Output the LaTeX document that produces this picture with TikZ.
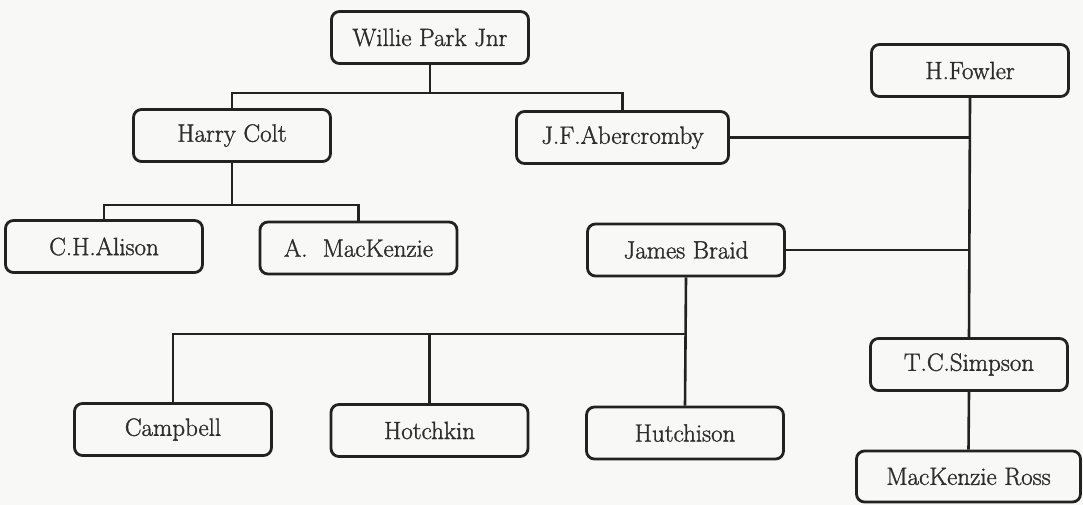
\documentclass[tikz,border=0pt]{standalone}
\usepackage{fontspec}
\newfontfamily\namefont{Latin Modern Roman}[FakeBold=1.3]
\definecolor{inkline}{RGB}{34,34,34}
\definecolor{inktext}{RGB}{45,45,45}
\definecolor{paper}{RGB}{248,248,246}
\tikzset{
    golfer/.style={draw=inkline, line width=2.8pt, rounded corners=8pt,
        minimum width=197pt, minimum height=52pt, inner sep=0pt,
        text=inktext, font=\namefont\fontsize{25}{29}\selectfont},
    link/.style={draw=inkline, line width=2.6pt}
}
\begin{document}
\begin{tikzpicture}[x=1pt, y=-1pt]
                \fill[paper] (0,0) rectangle (1083,505);
                \useasboundingbox (0,0) rectangle (1083,505);
                \node[golfer] (willie) at (430,37.5) {Willie Park Jnr};
                \node[golfer] (colt) at (232,135.5) {Harry Colt};
                \node[golfer, minimum width=212pt] (aber) at (622.5,137.5) {J.F.Abercromby};
                \node[golfer] (fowler) at (970,70.5) {H.Fowler};
                \node[golfer] (alison) at (104,246.5) {C.H.Alison};
                \node[golfer] (amack) at (358.5,248) {A.\ \ MacKenzie};
                \node[golfer] (braid) at (686,250) {James Braid};
                \node[golfer] (campbell) at (173,429.5) {Campbell};
                \node[golfer] (hotchkin) at (429.5,430.5) {Hotchkin};
                \node[golfer] (hutchison) at (685,433) {Hutchison};
                \node[golfer] (simpson) at (969,364.5) {T.C.Simpson};
                \node[golfer, minimum width=224pt, minimum height=51pt] (ross) at (968.5,476.5) {MacKenzie Ross};
                \coordinate (wjoin) at (430,93);
                \coordinate (cjoin) at (232,205);
                \coordinate (bjoin) at (686,334);
                \draw[link] (willie.south) -- (wjoin);
                \draw[link] (colt.north) |- (wjoin) -| (aber.north);
                \draw[link] (colt.south) -- (cjoin);
                \draw[link] (alison.north) |- (cjoin) -| (amack.north);
                \draw[link] (fowler.south) -- (simpson.north);
                \draw[link] (aber.east) -- (aber.east -| fowler.south);
                \draw[link] (braid.east) -- (braid.east -| fowler.south);
                \draw[link] (braid.south) -- (hutchison.north);
                \draw[link] (campbell.north) |- (bjoin);
                \draw[link] (hotchkin.north) -- (hotchkin.north |- bjoin);
                \draw[link] (simpson.south) -- (ross.north);
\end{tikzpicture}
\end{document}
